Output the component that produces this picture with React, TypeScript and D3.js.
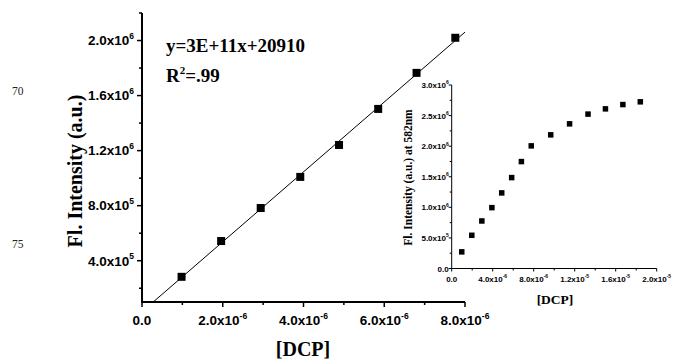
import React from "react";
import * as d3 from "d3";

// Main plot data (calibration)
const mainX = [0.98e-6, 1.96e-6, 2.94e-6, 3.92e-6, 4.88e-6, 5.85e-6, 6.8e-6, 7.76e-6];
const mainY = [2.83e5, 5.43e5, 7.83e5, 1.009e6, 1.241e6, 1.503e6, 1.765e6, 2.02e6];

// Inset data (full titration)
const insetX = [0.98e-6, 1.96e-6, 2.94e-6, 3.92e-6, 4.88e-6, 5.85e-6, 6.8e-6, 7.76e-6, 9.66e-6, 11.5e-6, 13.3e-6, 15.0e-6, 16.7e-6, 18.4e-6];
const insetY = [2.72e5, 5.43e5, 7.77e5, 9.95e5, 1.236e6, 1.486e6, 1.748e6, 2.005e6, 2.185e6, 2.365e6, 2.524e6, 2.61e6, 2.68e6, 2.725e6];

// Tick values and labels: [mantissa, exponent]
const mainXTicks = [0, 2e-6, 4e-6, 6e-6, 8e-6];
const mainXLabels: [string, string][] = [["0.0", ""], ["2.0x10", "-6"], ["4.0x10", "-6"], ["6.0x10", "-6"], ["8.0x10", "-6"]];
const mainXMinor = [1e-6, 3e-6, 5e-6, 7e-6];
const mainYTicks = [4e5, 8e5, 1.2e6, 1.6e6, 2.0e6];
const mainYLabels: [string, string][] = [["4.0x10", "5"], ["8.0x10", "5"], ["1.2x10", "6"], ["1.6x10", "6"], ["2.0x10", "6"]];
const mainYMinor = [2e5, 6e5, 1.0e6, 1.4e6, 1.8e6, 2.2e6];

const insetXTicks = [0, 4e-6, 8e-6, 1.2e-5, 1.6e-5, 2.0e-5];
const insetXLabels: [string, string][] = [["0.0", ""], ["4.0x10", "-6"], ["8.0x10", "-6"], ["1.2x10", "-5"], ["1.6x10", "-5"], ["2.0x10", "-5"]];
const insetXMinor = [2e-6, 6e-6, 1.0e-5, 1.4e-5, 1.8e-5];
const insetYTicks = [0, 5e5, 1.0e6, 1.5e6, 2.0e6, 2.5e6, 3.0e6];
const insetYLabels: [string, string][] = [["0.0", ""], ["5.0x10", "5"], ["1.0x10", "6"], ["1.5x10", "6"], ["2.0x10", "6"], ["2.5x10", "6"], ["3.0x10", "6"]];
const insetYMinor = [2.5e5, 7.5e5, 1.25e6, 1.75e6, 2.25e6, 2.75e6];

const equationText = "y=3E+11x+20910";
const sideNumbers = ["70", "75"];

const SANS = "'Liberation Sans', Arial, sans-serif";
const SERIF = "'Liberation Serif', 'Times New Roman', serif";

function Label({ x, y, m, e, size, supSize, anchor }: { x: number; y: number; m: string; e: string; size: number; supSize: number; anchor: string }) {
  return (
    <text x={x} y={y} fontFamily={SANS} fontWeight="bold" fontSize={size} textAnchor={anchor} fill="#000">
      <tspan>{m}</tspan>
      {e ? <tspan dy={-size * 0.45} fontSize={supSize}>{e}</tspan> : null}
    </text>
  );
}

export default function App() {
  const W = 674, H = 362;
  // main scales
  const x = d3.scaleLinear().domain([0, 8e-6]).range([142, 465]);
  const y = d3.scaleLinear().domain([1e5, 2.2e6]).range([302, 13]);
  // inset scales
  const ix = d3.scaleLinear().domain([0, 2e-5]).range([451.7, 656.7]);
  const iy = d3.scaleLinear().domain([0, 3e6]).range([268.5, 85]);

  // linear regression
  const mx = d3.mean(mainX)!;
  const my = d3.mean(mainY)!;
  let num = 0, den = 0;
  mainX.forEach((v, i) => { num += (v - mx) * (mainY[i] - my); den += (v - mx) * (v - mx); });
  const slope = num / den;
  const intercept = my - slope * mx;
  const x0 = (y.domain()[0] - intercept) / slope;
  const x1 = x.domain()[1];
  const line = d3.line<number>().x((d) => x(d)).y((d) => y(slope * d + intercept));

  const ms = 8; // main marker size
  const is = 5.5; // inset marker size

  return (
    <svg width={W} height={H} style={{ position: "absolute", left: 0, top: 0, background: "#fff" }}>
      <rect x={0} y={0} width={W} height={H} fill="#fff" />
      {/* side line numbers */}
      <text x={12} y={95} fontFamily={SERIF} fontSize={11.5} fill="#222">{sideNumbers[0]}</text>
      <text x={12} y={248} fontFamily={SERIF} fontSize={11.5} fill="#222">{sideNumbers[1]}</text>

      {/* MAIN PLOT */}
      <g>
        <line x1={x.range()[0]} x2={x.range()[0]} y1={y.range()[1]} y2={y.range()[0] + 1} stroke="#000" strokeWidth={2} />
        <line x1={x.range()[0] - 1} x2={x.range()[1]} y1={y.range()[0]} y2={y.range()[0]} stroke="#000" strokeWidth={2} />
        {mainYTicks.map((t, i) => (
          <g key={"my" + i}>
            <line x1={x.range()[0] - 5} x2={x.range()[0]} y1={y(t)} y2={y(t)} stroke="#000" strokeWidth={1.5} />
            <Label x={x.range()[0] - 8} y={y(t) + 4.8} m={mainYLabels[i][0]} e={mainYLabels[i][1]} size={13.5} supSize={8.5} anchor="end" />
          </g>
        ))}
        {mainYMinor.map((t, i) => (
          <line key={"mym" + i} x1={x.range()[0] - 3} x2={x.range()[0]} y1={y(t)} y2={y(t)} stroke="#000" strokeWidth={1.5} />
        ))}
        {mainXTicks.map((t, i) => (
          <g key={"mx" + i}>
            <line x1={x(t)} x2={x(t)} y1={y.range()[0]} y2={y.range()[0] + 5} stroke="#000" strokeWidth={1.5} />
            <Label x={x(t)} y={325} m={mainXLabels[i][0]} e={mainXLabels[i][1]} size={13.5} supSize={8.5} anchor="middle" />
          </g>
        ))}
        {mainXMinor.map((t, i) => (
          <line key={"mxm" + i} x1={x(t)} x2={x(t)} y1={y.range()[0]} y2={y.range()[0] + 3} stroke="#000" strokeWidth={1.5} />
        ))}
        <path d={line([x0, x1]) || ""} fill="none" stroke="#000" strokeWidth={1} />
        {mainX.map((v, i) => (
          <rect key={"mp" + i} x={x(v) - ms / 2} y={y(mainY[i]) - ms / 2} width={ms} height={ms} fill="#000" />
        ))}
        <text x={166} y={52} fontFamily={SERIF} fontWeight="bold" fontSize={19} fill="#000">{equationText}</text>
        <text x={166} y={82} fontFamily={SERIF} fontWeight="bold" fontSize={19} fill="#000">
          <tspan>R</tspan>
          <tspan dy={-8} fontSize={11}>2</tspan>
          <tspan dy={8}>=.99</tspan>
        </text>
        <text transform="translate(82,171) rotate(-90)" textAnchor="middle" fontFamily={SERIF} fontWeight="bold" fontSize={20} fill="#000">Fl. Intensity (a.u.)</text>
        <text x={303} y={356} textAnchor="middle" fontFamily={SERIF} fontWeight="bold" fontSize={20} fill="#000">[DCP]</text>
      </g>

      {/* INSET */}
      <g>
        <line x1={ix.range()[0]} x2={ix.range()[0]} y1={iy.range()[1]} y2={iy.range()[0]} stroke="#000" strokeWidth={1} />
        <line x1={ix.range()[0]} x2={ix.range()[1]} y1={iy.range()[0]} y2={iy.range()[0]} stroke="#000" strokeWidth={1} />
        {insetYTicks.map((t, i) => (
          <g key={"iy" + i}>
            <line x1={ix.range()[0] - 3} x2={ix.range()[0]} y1={iy(t)} y2={iy(t)} stroke="#000" strokeWidth={1} />
            <Label x={ix.range()[0] - 3} y={iy(t) + 3} m={insetYLabels[i][0]} e={insetYLabels[i][1]} size={8} supSize={5} anchor="end" />
          </g>
        ))}
        {insetYMinor.map((t, i) => (
          <line key={"iym" + i} x1={ix.range()[0] - 2} x2={ix.range()[0]} y1={iy(t)} y2={iy(t)} stroke="#000" strokeWidth={1} />
        ))}
        {insetXTicks.map((t, i) => (
          <g key={"ix" + i}>
            <line x1={ix(t)} x2={ix(t)} y1={iy.range()[0]} y2={iy.range()[0] + 3} stroke="#000" strokeWidth={1} />
            <Label x={ix(t)} y={282} m={insetXLabels[i][0]} e={insetXLabels[i][1]} size={8} supSize={5} anchor="middle" />
          </g>
        ))}
        {insetXMinor.map((t, i) => (
          <line key={"ixm" + i} x1={ix(t)} x2={ix(t)} y1={iy.range()[0]} y2={iy.range()[0] + 2} stroke="#000" strokeWidth={1} />
        ))}
        {insetX.map((v, i) => (
          <rect key={"ip" + i} x={ix(v) - is / 2} y={iy(insetY[i]) - is / 2} width={is} height={is} fill="#000" />
        ))}
        <text transform="translate(412,177.5) rotate(-90)" textAnchor="middle" fontFamily={SERIF} fontWeight="bold" fontSize={11.5} fill="#000">Fl. Intensity (a.u.) at 582nm</text>
        <text x={555} y={304} textAnchor="middle" fontFamily={SERIF} fontWeight="bold" fontSize={13.5} fill="#000">[DCP]</text>
      </g>
    </svg>
  );
}
